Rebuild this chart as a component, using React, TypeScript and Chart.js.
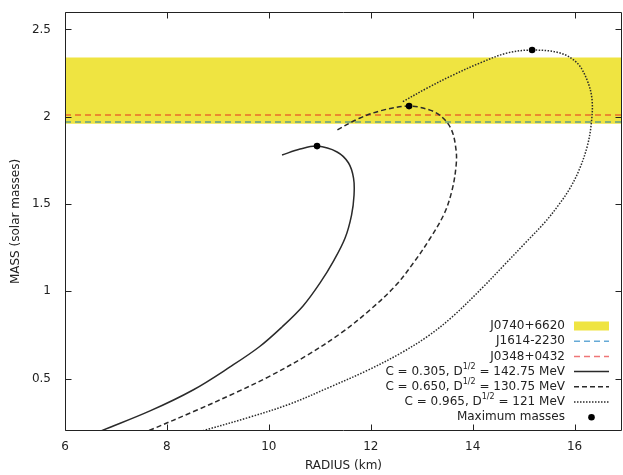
import React, { useEffect, useRef } from 'react';
import { Chart, registerables } from 'chart.js';

Chart.register(...registerables);

// ---- axis ranges and ticks ----
const X_MIN = 6;
const X_MAX = 16.93;
const Y_MIN = 0.2;
const Y_MAX = 2.6;
const xTickValues = [6, 8, 10, 12, 14, 16];
const yTickValues = [0.5, 1, 1.5, 2, 2.5];

// ---- mass-radius curves (radius in km, mass in solar masses) ----
const solidRadius = [6.294, 6.707, 7.668, 8.512, 9.238, 9.808, 10.259, 10.671, 11.005, 11.28, 11.496, 11.623, 11.672, 11.662, 11.564, 11.339, 10.946, 10.612, 10.259];
const solidMass = [0.148, 0.2, 0.315, 0.435, 0.567, 0.681, 0.796, 0.916, 1.048, 1.179, 1.305, 1.437, 1.552, 1.649, 1.735, 1.798, 1.832, 1.815, 1.781];

const dashedRadius = [7.217, 7.629, 8.591, 9.337, 9.984, 10.73, 11.417, 12.006, 12.497, 12.85, 13.144, 13.439, 13.596, 13.674, 13.674, 13.586, 13.399, 13.164, 12.752, 12.241, 11.79, 11.299];
const dashedMass = [0.148, 0.2, 0.32, 0.418, 0.509, 0.63, 0.761, 0.899, 1.036, 1.168, 1.294, 1.443, 1.58, 1.718, 1.809, 1.924, 1.998, 2.038, 2.061, 2.038, 1.993, 1.918];

const dottedRadius = [8.08, 8.689, 9.631, 10.416, 11.201, 11.947, 12.595, 13.125, 13.596, 14.185, 14.636, 15.048, 15.421, 15.715, 15.912, 16.088, 16.245, 16.324, 16.343, 16.245, 16.049, 15.715, 15.166, 14.675, 14.145, 13.615, 13.105, 12.614];
const dottedMass = [0.148, 0.2, 0.28, 0.355, 0.452, 0.549, 0.647, 0.744, 0.853, 1.019, 1.156, 1.282, 1.397, 1.506, 1.592, 1.695, 1.827, 1.953, 2.096, 2.21, 2.308, 2.365, 2.382, 2.365, 2.308, 2.239, 2.164, 2.084];

// ---- maximum masses ----
const maxRadius = [10.946, 12.752, 15.166];
const maxMass = [1.832, 2.061, 2.382];

// ---- pulsar constraints ----
const j0740Band = [1.96, 2.34];
const j1614Mass = 1.97;
const j0348Mass = 2.01;

// ---- legend texts ----
const pulsarNames = ['J0740+6620', 'J1614-2230', 'J0348+0432'];
const cValues = ['0.305', '0.650', '0.965'];
const dValues = ['142.75', '130.75', '121'];
const maxLabel = 'Maximum masses';

const FONT = '"DejaVu Sans", "Liberation Sans", sans-serif';
const TEXT = '#222';
const CURVE = '#2a2a2a';
const YELLOW = '#efe441';
const RED = 'rgba(228, 26, 28, 0.6)';
const BLUE = 'rgba(0, 114, 189, 0.6)';
const curveDashes = [[], [5, 3], [1.5, 1.5]];

const pts = (xs: number[], ys: number[]) => xs.map((x, i) => ({ x, y: ys[i] }));

const framePlugin = {
  id: 'frameTicks',
  afterDraw(chart: any) {
    const { ctx, chartArea, scales } = chart;
    const { left, right, top, bottom } = chartArea;
    const L = Math.round(left) + 0.5;
    const R = Math.round(right) - 0.5;
    const T = Math.round(top) + 0.5;
    const B = Math.round(bottom) - 0.5;
    ctx.save();
    ctx.strokeStyle = '#222';
    ctx.lineWidth = 1;
    ctx.setLineDash([]);
    ctx.beginPath();
    ctx.rect(L, T, R - L, B - T);
    const tl = 6;
    xTickValues.forEach((v) => {
      const px = Math.round(scales.x.getPixelForValue(v)) + 0.5;
      ctx.moveTo(px, B);
      ctx.lineTo(px, B - tl);
      ctx.moveTo(px, T);
      ctx.lineTo(px, T + tl);
    });
    yTickValues.forEach((v) => {
      const py = Math.round(scales.y.getPixelForValue(v)) + 0.5;
      ctx.moveTo(L, py);
      ctx.lineTo(L + tl, py);
      ctx.moveTo(R, py);
      ctx.lineTo(R - tl, py);
    });
    ctx.stroke();
    ctx.restore();
  },
};

const legendPlugin = {
  id: 'customLegend',
  afterDraw(chart: any) {
    const { ctx, chartArea } = chart;
    const textRight = chartArea.right - 57;
    const s0 = chartArea.right - 48;
    const s1 = chartArea.right - 13;
    const y0 = chartArea.bottom - 105;
    const dy = 15.2;
    ctx.save();
    ctx.textBaseline = 'middle';
    ctx.fillStyle = TEXT;
    const mainFont = `12px ${FONT}`;
    const supFont = `8px ${FONT}`;

    const drawLine = (y: number, color: string, dash: number[], width: number) => {
      ctx.save();
      ctx.strokeStyle = color;
      ctx.lineWidth = width;
      ctx.setLineDash(dash);
      ctx.beginPath();
      ctx.moveTo(s0, y);
      ctx.lineTo(s1, y);
      ctx.stroke();
      ctx.restore();
    };

    // row 0: band
    let y = y0;
    ctx.font = mainFont;
    ctx.textAlign = 'right';
    ctx.fillText(pulsarNames[0], textRight, y);
    ctx.fillStyle = YELLOW;
    ctx.fillRect(s0, y - 4.5, s1 - s0, 9);
    ctx.fillStyle = TEXT;

    // rows 1-2: pulsar lines
    y = y0 + dy;
    ctx.fillText(pulsarNames[1], textRight, y);
    drawLine(y, BLUE, [6, 4], 1.5);
    y = y0 + 2 * dy;
    ctx.fillText(pulsarNames[2], textRight, y);
    drawLine(y, RED, [6, 4], 1.5);

    // rows 3-5: curves
    for (let i = 0; i < 3; i++) {
      y = y0 + (3 + i) * dy;
      const pre = `C = ${cValues[i]}, D`;
      const sup = '1/2';
      const post = ` = ${dValues[i]} MeV`;
      ctx.font = mainFont;
      const wPre = ctx.measureText(pre).width;
      const wPost = ctx.measureText(post).width;
      ctx.font = supFont;
      const wSup = ctx.measureText(sup).width;
      let x = textRight - (wPre + wSup + wPost);
      ctx.textAlign = 'left';
      ctx.font = mainFont;
      ctx.fillText(pre, x, y);
      x += wPre;
      ctx.font = supFont;
      ctx.fillText(sup, x, y - 5);
      x += wSup;
      ctx.font = mainFont;
      ctx.fillText(post, x, y);
      drawLine(y, CURVE, curveDashes[i], 1.5);
    }

    // row 6: max masses
    y = y0 + 6 * dy;
    ctx.textAlign = 'right';
    ctx.font = mainFont;
    ctx.fillText(maxLabel, textRight, y);
    ctx.beginPath();
    ctx.fillStyle = '#000';
    ctx.arc((s0 + s1) / 2, y, 3.3, 0, Math.PI * 2);
    ctx.fill();
    ctx.restore();
  },
};

export default function App() {
  const canvasRef = useRef<HTMLCanvasElement | null>(null);

  useEffect(() => {
    const canvas = canvasRef.current;
    if (!canvas) return;
    Chart.defaults.font.family = FONT;
    Chart.defaults.font.size = 12;
    Chart.defaults.color = TEXT;

    const curveData = [pts(solidRadius, solidMass), pts(dashedRadius, dashedMass), pts(dottedRadius, dottedMass)];

    const chart = new Chart(canvas, {
      type: 'scatter',
      data: {
        datasets: [
          {
            label: maxLabel,
            data: pts(maxRadius, maxMass),
            showLine: false,
            pointRadius: 3.3,
            pointHoverRadius: 3.3,
            pointBackgroundColor: '#000',
            pointBorderWidth: 0,
            order: 0,
          },
          ...curveData.map((d, i) => ({
            label: `C = ${cValues[i]}`,
            data: d,
            showLine: true,
            pointRadius: 0,
            pointHoverRadius: 0,
            borderColor: CURVE,
            borderWidth: 1.5,
            borderDash: curveDashes[i],
            tension: 0.35,
            fill: false,
            order: 1,
          })),
          {
            label: pulsarNames[2],
            data: [{ x: X_MIN, y: j0348Mass }, { x: X_MAX, y: j0348Mass }],
            showLine: true,
            pointRadius: 0,
            pointHoverRadius: 0,
            borderColor: RED,
            borderWidth: 1.5,
            borderDash: [6, 4],
            fill: false,
            order: 2,
          },
          {
            label: pulsarNames[1],
            data: [{ x: X_MIN, y: j1614Mass }, { x: X_MAX, y: j1614Mass }],
            showLine: true,
            pointRadius: 0,
            pointHoverRadius: 0,
            borderColor: BLUE,
            borderWidth: 1.5,
            borderDash: [6, 4],
            fill: false,
            order: 2,
          },
          {
            label: pulsarNames[0],
            data: [{ x: X_MIN, y: j0740Band[1] }, { x: X_MAX, y: j0740Band[1] }],
            showLine: true,
            pointRadius: 0,
            pointHoverRadius: 0,
            borderWidth: 0,
            borderColor: 'rgba(0,0,0,0)',
            backgroundColor: YELLOW,
            fill: { value: j0740Band[0] },
            order: 3,
          },
        ] as any,
      },
      options: {
        animation: false,
        responsive: false,
        devicePixelRatio: 1,
        events: [],
        layout: { autoPadding: false, padding: { top: 12, right: 1, left: 0, bottom: 0 } },
        plugins: {
          legend: { display: false },
          tooltip: { enabled: false },
        },
        scales: {
          x: {
            type: 'linear',
            min: X_MIN,
            max: X_MAX,
            grid: { display: false, drawTicks: false },
            border: { display: false },
            afterBuildTicks: (s: any) => {
              s.ticks = xTickValues.map((v) => ({ value: v }));
            },
            afterFit: (s: any) => {
              s.height = 44;
              s.paddingLeft = 0;
              s.paddingRight = 0;
              s.paddingTop = 0;
              s.paddingBottom = 0;
            },
            ticks: {
              padding: 9,
              color: TEXT,
              font: { size: 12 },
              autoSkip: false,
              maxRotation: 0,
              callback: (v: any) => String(v),
            },
            title: {
              display: true,
              text: 'RADIUS (km)',
              color: TEXT,
              font: { size: 12 },
              padding: { top: 0, bottom: 2 },
            },
          },
          y: {
            type: 'linear',
            min: Y_MIN,
            max: Y_MAX,
            grid: { display: false, drawTicks: false },
            border: { display: false },
            afterBuildTicks: (s: any) => {
              s.ticks = yTickValues.map((v) => ({ value: v }));
            },
            afterFit: (s: any) => {
              s.width = 65;
              s.paddingLeft = 0;
              s.paddingRight = 0;
              s.paddingTop = 0;
              s.paddingBottom = 0;
            },
            ticks: {
              padding: 14,
              color: TEXT,
              font: { size: 12 },
              autoSkip: false,
              callback: (v: any) => String(v),
            },
            title: {
              display: true,
              text: 'MASS (solar masses)',
              color: TEXT,
              font: { size: 12 },
              padding: { top: 9, bottom: 0 },
            },
          },
        },
      } as any,
      plugins: [framePlugin, legendPlugin],
    });

    return () => {
      chart.destroy();
    };
  }, []);

  return (
    <div style={{ position: 'absolute', left: 0, top: 0, width: 623, height: 475, background: '#fff' }}>
      <canvas ref={canvasRef} width={623} height={475} style={{ display: 'block' }} />
    </div>
  );
}
